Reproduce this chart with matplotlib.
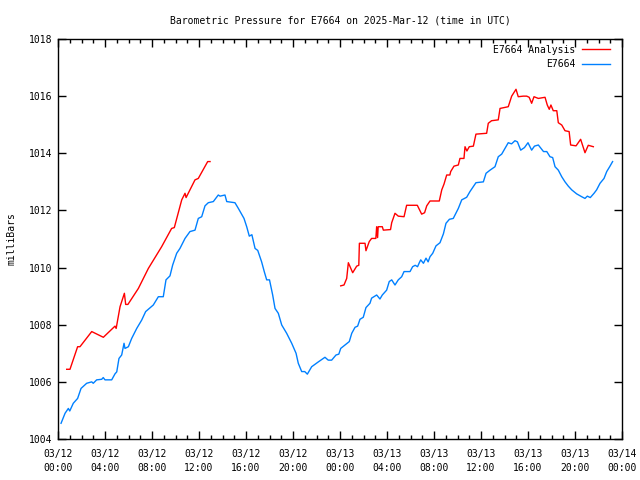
#!/usr/bin/env python3
# Barometric pressure for station E7664, observed vs analysis, 2025-03-12..13 (UTC).
import numpy as np
import matplotlib
matplotlib.use('Agg')
import matplotlib.pyplot as plt
from matplotlib.ticker import MultipleLocator

# hours since 2025-03-12 00:00 UTC
obs_hours = [0.26, 0.6, 0.88, 1.0, 1.3, 1.67, 1.96, 2.44, 2.87, 3.0, 3.29, 3.72, 3.85, 4.0, 4.57,
             4.85, 5.0, 5.19, 5.42, 5.62, 5.7, 5.99, 6.27, 6.7, 7.12, 7.46, 7.69, 8.11, 8.54,
             8.96, 9.19, 9.53, 9.76, 10.1, 10.38, 10.81, 11.23, 11.66, 11.94, 12.23, 12.51,
             12.79, 13.22, 13.64, 13.79, 14.21, 14.36, 15.06, 15.35, 15.83, 16.06, 16.28, 16.5,
             16.77, 17.0, 17.33, 17.56, 17.76, 18.0, 18.27, 18.47, 18.75, 19.04, 19.46, 19.89,
             20.26, 20.45, 20.74, 21.0, 21.22, 21.59, 22.16, 22.72, 23.0, 23.29, 23.66, 23.9,
             24.06, 24.43, 24.79, 25.0, 25.28, 25.5, 25.7, 25.98, 26.21, 26.55, 26.69, 27.12,
             27.4, 27.6, 27.97, 28.19, 28.4, 28.68, 28.96, 29.25, 29.45, 29.96, 30.18, 30.4,
             30.6, 30.75, 30.87, 31.1, 31.32, 31.5, 31.66, 31.89, 32.17, 32.51, 32.8, 33.02,
             33.31, 33.64, 34.07, 34.36, 34.78, 35.06, 35.57, 36.2, 36.43, 36.77, 37.19, 37.47,
             37.76, 38.04, 38.32, 38.6, 38.89, 39.1, 39.38, 39.7, 40.0, 40.31, 40.55, 40.88,
             41.32, 41.6, 41.87, 42.1, 42.3, 42.58, 42.87, 43.15, 43.43, 43.72, 44.14, 44.57,
             44.85, 45.05, 45.3, 45.62, 45.84, 46.13, 46.47, 46.7, 46.98, 47.2]
obs_mb = [1004.55, 1004.9, 1005.07, 1004.98, 1005.25, 1005.42, 1005.77, 1005.95, 1006.0, 1005.95,
          1006.07, 1006.09, 1006.15, 1006.07, 1006.07, 1006.28, 1006.35, 1006.82, 1006.94,
          1007.35, 1007.17, 1007.23, 1007.52, 1007.87, 1008.16, 1008.46, 1008.54, 1008.69,
          1008.98, 1008.98, 1009.57, 1009.71, 1010.09, 1010.5, 1010.67, 1011.02, 1011.26,
          1011.31, 1011.72, 1011.78, 1012.16, 1012.27, 1012.31, 1012.54, 1012.5, 1012.54,
          1012.31, 1012.27, 1012.07, 1011.72, 1011.43, 1011.1, 1011.15, 1010.67, 1010.6, 1010.2,
          1009.85, 1009.57, 1009.57, 1009.04, 1008.57, 1008.4, 1007.99, 1007.7, 1007.35,
          1007.0, 1006.65, 1006.36, 1006.36, 1006.27, 1006.53, 1006.7, 1006.86, 1006.76,
          1006.76, 1006.94, 1006.97, 1007.17, 1007.29, 1007.41, 1007.7, 1007.91, 1007.95,
          1008.19, 1008.26, 1008.6, 1008.75, 1008.93, 1009.04, 1008.9, 1009.04, 1009.21,
          1009.51, 1009.57, 1009.39, 1009.57, 1009.68, 1009.86, 1009.86, 1010.03, 1010.08,
          1010.03, 1010.17, 1010.27, 1010.15, 1010.33, 1010.2, 1010.38, 1010.5, 1010.76,
          1010.87, 1011.18, 1011.55, 1011.69, 1011.72, 1012.07, 1012.37, 1012.46, 1012.66,
          1012.97, 1013.0, 1013.3, 1013.41, 1013.53, 1013.88, 1013.97, 1014.17, 1014.37,
          1014.33, 1014.44, 1014.4, 1014.11, 1014.2, 1014.37, 1014.11, 1014.25, 1014.29,
          1014.06, 1014.06, 1013.88, 1013.85, 1013.53, 1013.41, 1013.18, 1013.0, 1012.85,
          1012.72, 1012.58, 1012.48, 1012.42, 1012.5, 1012.45, 1012.6, 1012.72, 1012.95,
          1013.12, 1013.36, 1013.55, 1013.71]

ana_hours = [0.74, 1.02, 1.67, 1.87, 2.87, 3.86, 4.85, 4.95, 5.28, 5.65, 5.76, 5.95, 6.84, 7.69,
             8.82, 9.67, 9.9, 10.53, 10.81, 10.9, 11.66, 11.94, 12.74, 12.94,
             np.nan,
             24.06, 24.34, 24.57, 24.71, 25.08, 25.42, 25.6, 25.65, 26.13, 26.21, 26.49, 26.69,
             27.05, 27.12, 27.2, 27.25, 27.6, 27.69, 28.3, 28.4, 28.68, 28.96, 29.45, 29.67,
             30.58, 30.95, 31.2, 31.38, 31.66, 32.45, 32.66, 32.85, 33.08, 33.35, 33.42, 33.7,
             34.07, 34.21, 34.55, 34.64, 34.8, 35.0, 35.35, 35.57, 36.48, 36.62, 36.9, 37.47,
             37.62, 38.32, 38.61, 38.98, 39.17, 39.6, 39.89, 40.1, 40.31, 40.51, 40.88, 41.45,
             41.64, 41.81, 41.95, 42.15, 42.45, 42.58, 42.87, 43.15, 43.5, 43.63, 44.09, 44.48,
             44.85, 45.13, 45.56]
ana_mb = [1006.44, 1006.44, 1007.23, 1007.23, 1007.76, 1007.56, 1007.95, 1007.87, 1008.63,
          1009.1, 1008.71, 1008.71, 1009.27, 1009.97, 1010.73, 1011.37, 1011.4, 1012.37,
          1012.6, 1012.45, 1013.07, 1013.12, 1013.71, 1013.71,
          np.nan,
          1009.36, 1009.39, 1009.62, 1010.17, 1009.82, 1010.05, 1010.08, 1010.85, 1010.85,
          1010.59, 1010.91, 1011.02, 1011.02, 1011.43, 1011.05, 1011.43, 1011.43, 1011.31,
          1011.33, 1011.57, 1011.9, 1011.8, 1011.78, 1012.18, 1012.18, 1011.87, 1011.92,
          1012.16, 1012.33, 1012.33, 1012.72, 1012.92, 1013.24, 1013.24, 1013.36, 1013.55,
          1013.59, 1013.82, 1013.82, 1014.23, 1014.08, 1014.23, 1014.25, 1014.67, 1014.7,
          1015.05, 1015.14, 1015.17, 1015.57, 1015.63, 1016.0, 1016.24, 1015.98, 1016.0,
          1016.0, 1015.96, 1015.75, 1015.98, 1015.92, 1015.96, 1015.69, 1015.54, 1015.69,
          1015.49, 1015.49, 1015.07, 1014.99, 1014.79, 1014.76, 1014.29, 1014.26, 1014.49,
          1014.02, 1014.28, 1014.23]

tick_hours = list(range(0, 49, 4))
tick_labels = ['03/12\n00:00', '03/12\n04:00', '03/12\n08:00', '03/12\n12:00', '03/12\n16:00',
               '03/12\n20:00', '03/13\n00:00', '03/13\n04:00', '03/13\n08:00', '03/13\n12:00',
               '03/13\n16:00', '03/13\n20:00', '03/14\n00:00']

plt.rcParams['font.family'] = 'DejaVu Sans Mono'
plt.rcParams['font.size'] = 7

fig = plt.figure(figsize=(6.4, 4.8), dpi=100)
ax = fig.add_axes([58 / 640, 41 / 480, 564 / 640, 400 / 480])

ax.plot(ana_hours, ana_mb, color='#ff0000', lw=1, label='E7664 Analysis')
ax.plot(obs_hours, obs_mb, color='#0080ff', lw=1, label='E7664')

ax.set_xlim(0, 48)
ax.set_ylim(1004, 1018)
ax.set_xticks(tick_hours)
ax.set_xticklabels(tick_labels, linespacing=1.4)
ax.xaxis.set_minor_locator(MultipleLocator(1))
ax.set_yticks(range(1004, 1019, 2))
ax.tick_params(which='both', direction='in', top=True, right=True, width=1)
ax.tick_params(which='major', length=6, pad=4)
ax.tick_params(axis='x', which='major', pad=7.5)
ax.tick_params(which='minor', length=3)
for s in ax.spines.values():
    s.set_linewidth(1)

ax.set_ylabel('milliBars', labelpad=9)
ax.set_title('Barometric Pressure for E7664 on 2025-Mar-12 (time in UTC)', fontsize=7, pad=11.5)

leg = ax.legend(loc='upper right', bbox_to_anchor=(0.986, 0.995), borderaxespad=0,
                frameon=False, markerfirst=False, handlelength=2.9,
                handletextpad=0.7, labelspacing=0.45)
for t in leg.get_texts():
    t.set_ha('right')

fig.savefig('out.png', dpi=100)
